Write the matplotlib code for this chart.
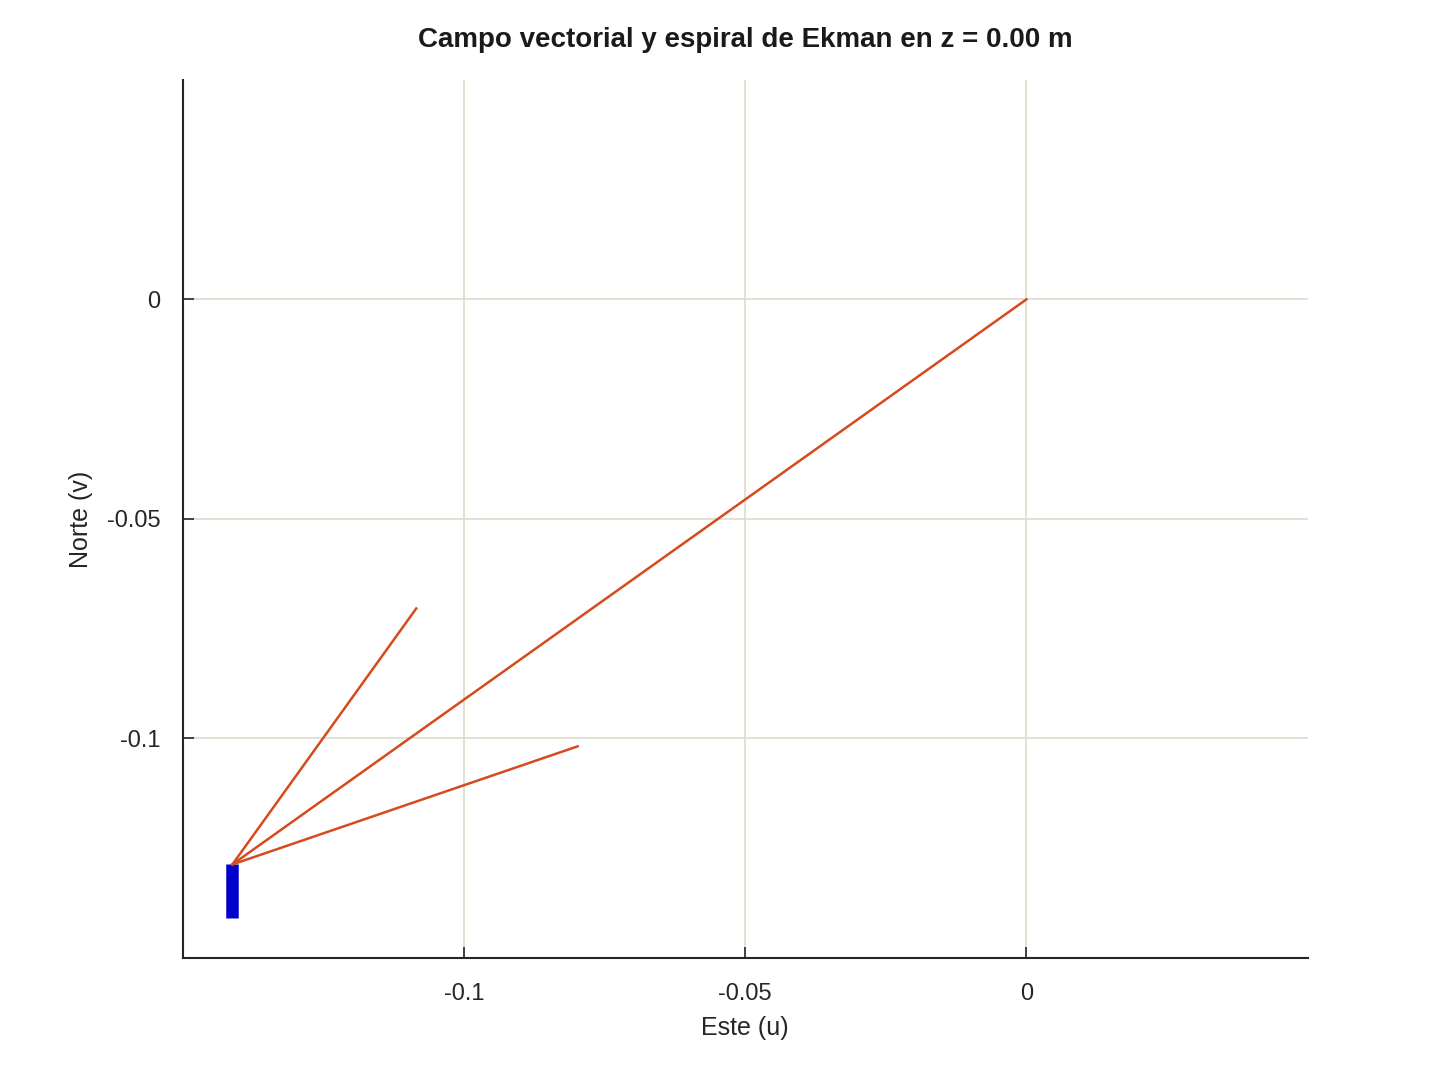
import matplotlib
matplotlib.use("Agg")
import matplotlib.pyplot as plt

plt.rcParams['font.family'] = ['Liberation Sans', 'DejaVu Sans']

# Data
title = "Campo vectorial y espiral de Ekman en z = 0.00 m"
xlabel = "Este (u)"
ylabel = "Norte (v)"
xlim = [-0.15, 0.05]
ylim = [-0.15, 0.05]
xticks = [-0.1, -0.05, 0]
xticklabels = ["-0.1", "-0.05", "0"]
yticks = [-0.1, -0.05, 0]
yticklabels = ["-0.1", "-0.05", "0"]

# Vector (shaft) from origin to tip
shaft_u = [0.0, -0.1412]
shaft_v = [0.0, -0.1287]
# Arrow head barbs (tip -> barb end)
barb1_u = [-0.1412, -0.1085]
barb1_v = [-0.1287, -0.0704]
barb2_u = [-0.1412, -0.0798]
barb2_v = [-0.1287, -0.1018]
# Ekman spiral (blue) segment
spiral_u = [-0.1412, -0.1412]
spiral_v = [-0.1287, -0.1410]

txt = '#262626'
red = '#D64A1E'
blue = '#0000CC'

fig = plt.figure(figsize=(14.4, 10.8), dpi=100, facecolor='white')
ax = fig.add_axes([0.127, 0.113, 0.781, 0.813])
ax.set_facecolor('white')

ax.plot(spiral_u, spiral_v, color=blue, linewidth=9, solid_capstyle='butt', zorder=3)
ax.plot(shaft_u, shaft_v, color=red, linewidth=1.8, zorder=4)
ax.plot(barb1_u, barb1_v, color=red, linewidth=1.8, zorder=4)
ax.plot(barb2_u, barb2_v, color=red, linewidth=1.8, zorder=4)

ax.set_xlim(xlim)
ax.set_ylim(ylim)
ax.set_xticks(xticks)
ax.set_xticklabels(xticklabels)
ax.set_yticks(yticks)
ax.set_yticklabels(yticklabels)

ax.grid(True, color='#dcdccc', linewidth=1.2)
ax.set_axisbelow(True)

for s in ['top', 'right']:
    ax.spines[s].set_visible(False)
for s in ['left', 'bottom']:
    ax.spines[s].set_color(txt)
    ax.spines[s].set_linewidth(1.5)

ax.tick_params(direction='in', length=8, width=1.2, colors=txt,
               labelsize=17, pad=18)
ax.tick_params(axis='y', pad=16)

ax.set_xlabel(xlabel, fontsize=18, color=txt, labelpad=8)
ax.set_ylabel(ylabel, fontsize=18, color=txt, labelpad=10)
ax.set_title(title, fontsize=20, fontweight='bold', color='#1a1a1a', pad=24)

fig.savefig('out.png', dpi=100, facecolor='white')
